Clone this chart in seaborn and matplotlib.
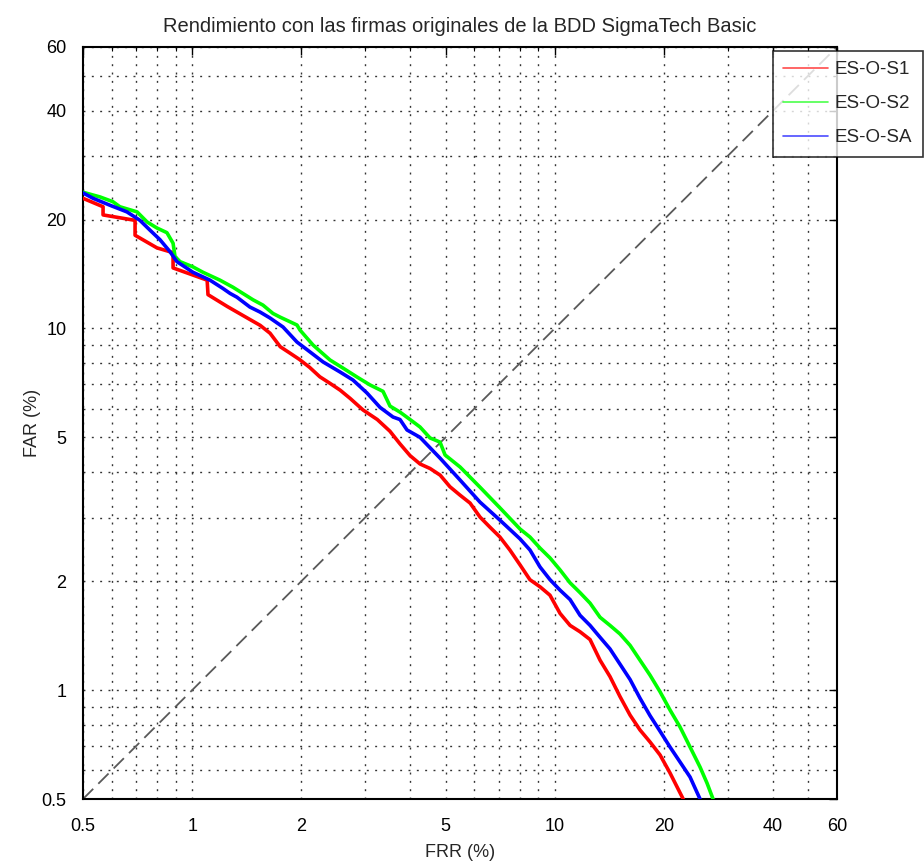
import pandas as pd
import seaborn as sns
import matplotlib.pyplot as plt
from matplotlib.ticker import FixedLocator, FixedFormatter, LogLocator, NullFormatter

# DET curve values (FRR %, FAR %)
frr_s1 = [0.50, 0.568, 0.568, 0.696, 0.696, 0.80, 0.886, 0.886, 1.10, 1.106, 1.25, 1.44, 1.54, 1.64,
          1.75, 1.86, 1.98, 2.11, 2.25, 2.40, 2.56, 2.73, 2.96, 3.24, 3.51, 3.74, 3.99, 4.25, 4.53, 4.83,
          5.14, 5.48, 5.84, 6.22, 6.63, 7.06, 7.52, 8.02, 8.54, 9.11, 9.70, 10.34, 11.02, 11.74, 12.51,
          13.33, 14.20, 15.13, 16.13, 17.18, 18.31, 19.51, 20.79, 21.74, 22.6]
far_s1 = [22.9, 21.7, 20.6, 19.9, 18.1, 16.7, 16.2, 14.7, 13.6, 12.4, 11.5, 10.6, 10.2, 9.7,
          8.9, 8.55, 8.2, 7.8, 7.35, 7.05, 6.75, 6.4, 5.95, 5.6, 5.2, 4.8, 4.45, 4.22, 4.1, 3.93,
          3.65, 3.46, 3.29, 3.01, 2.82, 2.65, 2.44, 2.22, 2.02, 1.93, 1.83, 1.63, 1.51, 1.45, 1.38,
          1.21, 1.09, 0.96, 0.853, 0.776, 0.719, 0.662, 0.59, 0.54, 0.5]

frr_s2 = [0.50, 0.557, 0.605, 0.632, 0.705, 0.751, 0.80, 0.852, 0.886, 0.897, 0.926, 1.005, 1.071,
          1.193, 1.296, 1.472, 1.568, 1.671, 1.747, 1.946, 1.983, 2.154, 2.40, 2.606, 2.849, 3.093,
          3.36, 3.513, 3.743, 3.989, 4.25, 4.529, 4.826, 4.982, 5.48, 6.22, 7.063, 8.018, 8.544, 9.107,
          9.703, 10.34, 11.02, 11.74, 12.51, 13.33, 14.2, 15.13, 16.13, 17.18, 18.31, 19.51, 20.79,
          22.15, 23.61, 25.15, 26.3, 27.32]
far_s2 = [23.8, 23.1, 22.4, 21.7, 21.0, 19.7, 18.95, 18.4, 17.2, 15.8, 15.3, 14.8, 14.3,
          13.6, 13.0, 12.0, 11.6, 11.0, 10.75, 10.22, 9.9, 9.0, 8.18, 7.77, 7.34, 6.98,
          6.7, 6.1, 5.87, 5.6, 5.34, 4.98, 4.85, 4.47, 4.14, 3.64, 3.19, 2.79, 2.65, 2.47,
          2.32, 2.15, 1.98, 1.86, 1.74, 1.59, 1.51, 1.43, 1.33, 1.21, 1.10, 0.99, 0.881,
          0.791, 0.696, 0.613, 0.553, 0.5]

frr_sa = [0.50, 0.533, 0.594, 0.661, 0.718, 0.765, 0.815, 0.869, 0.908, 1.005, 1.12, 1.216, 1.272,
          1.329, 1.443, 1.539, 1.639, 1.781, 1.946, 2.114, 2.296, 2.557, 2.777, 3.035, 3.297, 3.58,
          3.743, 3.913, 4.25, 4.826, 5.48, 6.22, 7.063, 8.018, 8.544, 9.107, 9.703, 10.34, 11.02,
          11.74, 12.51, 13.33, 14.20, 15.13, 16.13, 17.18, 18.31, 19.51, 20.79, 22.15, 23.61, 25.15]
far_sa = [23.7, 22.9, 21.9, 21.0, 19.9, 18.7, 17.6, 16.3, 15.3, 14.3, 13.6, 12.9, 12.5,
          12.2, 11.46, 11.1, 10.69, 10.09, 9.17, 8.61, 8.08, 7.58, 7.20, 6.63, 6.05, 5.69,
          5.6, 5.24, 5.0, 4.38, 3.81, 3.31, 2.95, 2.62, 2.44, 2.19, 2.02, 1.89, 1.78,
          1.61, 1.51, 1.40, 1.30, 1.18, 1.07, 0.95, 0.85, 0.77, 0.696, 0.633, 0.575, 0.5]

series = ['ES-O-S1', 'ES-O-S2', 'ES-O-SA']
colors = {'ES-O-S1': '#ff0000', 'ES-O-S2': '#00ff00', 'ES-O-SA': '#0000ff'}
ticks = [0.5, 1, 2, 5, 10, 20, 40, 60]
tick_labels = ['0.5', '1', '2', '5', '10', '20', '40', '60']
diag = [0.5, 60]

frames = []
for name, x, y in zip(series, [frr_s1, frr_s2, frr_sa], [far_s1, far_s2, far_sa]):
    frames.append(pd.DataFrame({'FRR': x, 'FAR': y, 'serie': name}))
df = pd.concat(frames, ignore_index=True)

sns.set_style('white')
plt.rcParams['font.family'] = ['Liberation Sans', 'DejaVu Sans']

fig = plt.figure(figsize=(9.24, 8.67), dpi=100)
ax = fig.add_axes([0.0898, 0.0784, 0.816, 0.8674])

# diagonal EER reference
ax.plot(diag, diag, color='0.35', lw=1.3, dashes=(8, 4), zorder=2)

sns.lineplot(data=df, x='FRR', y='FAR', hue='serie', hue_order=series, palette=colors,
             sort=False, estimator=None, lw=2.6, ax=ax, zorder=3)

ax.set_xscale('log')
ax.set_yscale('log')
ax.set_xlim(0.5, 60)
ax.set_ylim(0.5, 60)
for axis in (ax.xaxis, ax.yaxis):
    axis.set_major_locator(FixedLocator(ticks))
    axis.set_major_formatter(FixedFormatter(tick_labels))
    axis.set_minor_locator(LogLocator(base=10, subs=range(2, 10)))
    axis.set_minor_formatter(NullFormatter())

ax.grid(True, which='both', color='0.2', lw=1.0, linestyle=(0, (1.4, 4.6)))
ax.set_axisbelow(True)
ax.tick_params(which='both', direction='in', top=True, right=True, labelsize=13, colors='black')
ax.tick_params(which='major', length=6, width=1)
ax.tick_params(axis='x', which='major', pad=14)
ax.tick_params(axis='y', which='major', pad=12)
ax.tick_params(which='minor', length=3, width=0.8)
for sp in ax.spines.values():
    sp.set_color('black')
    sp.set_linewidth(1.5)

ax.set_title('Rendimiento con las firmas originales de la BDD SigmaTech Basic', fontsize=14.5, pad=11)
ax.set_xlabel('FRR (%)', fontsize=13, labelpad=6)
ax.set_ylabel('FAR (%)', fontsize=13, labelpad=0)

handles, labels = ax.get_legend_handles_labels()
leg = ax.legend(handles, labels, loc='upper left', bbox_to_anchor=(773 / 924, 1 - 51 / 867),
                bbox_transform=fig.transFigure, fontsize=13.5, frameon=True, fancybox=False,
                edgecolor='black', borderaxespad=0, handlelength=2.4, handletextpad=0.35,
                borderpad=0.55, labelspacing=0.9)
leg.get_frame().set_linewidth(1.2)
for line in leg.get_lines():
    line.set_linewidth(1.2)
    line.set_alpha(0.7)

plt.savefig('out.png', dpi=100)
